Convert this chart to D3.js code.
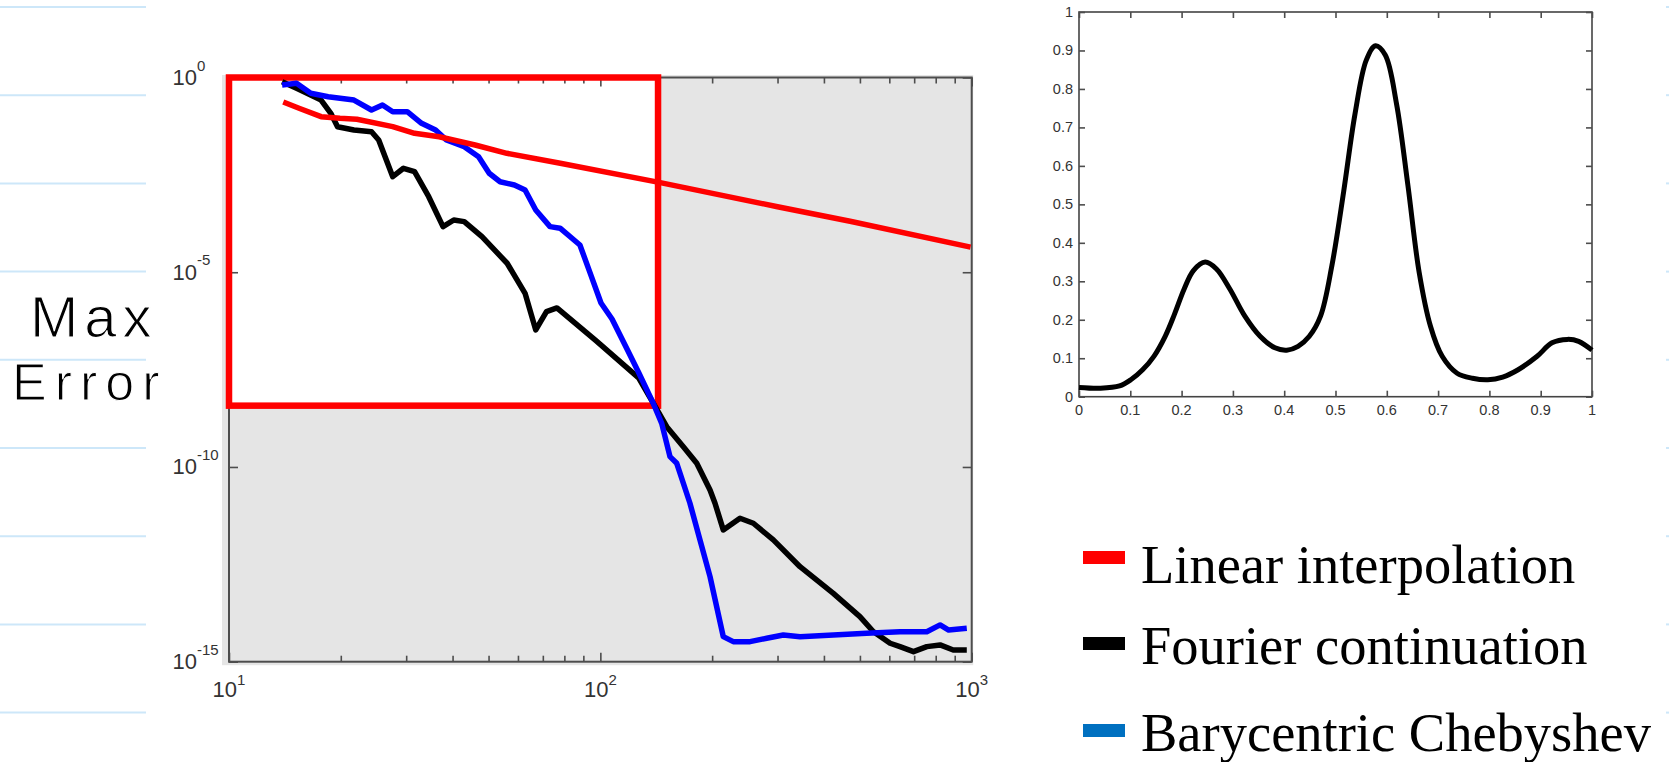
<!DOCTYPE html>
<html>
<head>
<meta charset="utf-8">
<script src="https://cdn.jsdelivr.net/npm/d3@7"></script>
<style>
  body { margin: 0; background: #fff; }
  svg { display: block; }
</style>
</head>
<body>
<script>
// ---- data ----
// max error vs N (log-log)
const nLinear   = [14, 15.5, 17.7, 19.9, 22.1, 27.6, 31.6, 36.8, 46, 56, 78, 145, 300, 474, 993];
const errLinear = [0.235, 0.16, 0.0986, 0.09, 0.085, 0.0546, 0.0369, 0.0302, 0.0185, 0.0113, 6.3e-3, 2.0e-3, 4.8e-4, 2.0e-4, 4.4e-5];

const nFourier   = [13.9, 15.2, 17.7, 18.8, 19.6, 21.7, 24.2, 25.3, 27.6, 29.5, 31.6, 34.5, 37.7, 40.3, 43, 48, 56.1, 62.7, 67, 71.6, 76.4,
                    97.3, 126.8, 138.7, 150.9, 167.3, 181.8, 197.4, 203.6, 214.3, 237.7, 258.2, 292.3, 344.9, 424, 500, 543, 603, 641, 697, 757, 822, 892, 970];
const errFourier = [0.78, 0.53, 0.264, 0.12, 0.0546, 0.0449, 0.0406, 0.0248, 2.84e-3, 4.67e-3, 3.82e-3, 8.7e-4, 1.48e-4, 2.19e-4, 1.99e-4, 8.18e-5, 1.7e-5, 2.88e-6, 3.29e-7, 9.7e-7, 1.21e-6,
                    1.76e-7, 1.94e-8, 4.4e-9, 1.08e-9, 3.32e-10, 1.24e-10, 2.57e-11, 1.17e-11, 2.42e-12, 4.82e-12, 3.59e-12, 1.34e-12, 2.75e-13, 5.7e-14, 1.44e-14, 5.96e-15, 2.98e-15, 2.44e-15, 1.81e-15, 2.44e-15, 2.7e-15, 2.0e-15, 2.0e-15];

const nCheb   = [13.9, 15.2, 16.6, 18.5, 21.7, 24.2, 25.9, 27.6, 30.2, 33, 36, 38.5, 43, 47, 50.2, 53.7, 58.7, 62.7, 67, 73.2, 77.9, 88.1, 94.2, 100.4,
                 107.5, 118.7, 126.8, 138.7, 146.3, 154, 160.6, 174.3, 185.5, 197.4, 214.3, 228, 253, 280.5, 311, 345, 424, 521, 641, 757, 822, 867, 970];
const errCheb = [0.642, 0.71, 0.393, 0.321, 0.264, 0.1465, 0.197, 0.1324, 0.1324, 0.0667, 0.0449, 0.0248, 0.0167, 9.27e-3, 3.47e-3, 2.11e-3, 1.74e-3, 1.29e-3, 3.96e-4, 1.48e-4, 1.35e-4, 5.0e-5, 8.7e-6, 1.62e-6,
                 6.3e-7, 9.5e-8, 2.67e-8, 4.4e-9, 1.32e-9, 1.84e-10, 1.24e-10, 1.17e-11, 1.34e-12, 1.53e-13, 4.4e-15, 3.27e-15, 3.27e-15, 4.0e-15, 4.86e-15, 4.4e-15, 4.86e-15, 5.37e-15, 5.9e-15, 5.9e-15, 8.8e-15, 6.5e-15, 7.2e-15];

// highlighted region (red box), in data units
const boxN   = [10, 143];
const boxErr = [1, 3.75e-9];

// ticks of the error plot
const xMajor = [10, 100, 1000];
const xMinor = [20, 30, 40, 50, 60, 70, 80, 90, 200, 300, 400, 500, 600, 700, 800, 900];
const yMajor = [1, 1e-5, 1e-10, 1e-15];

// test function on [0,1]
const xSignal = [0, 0.042, 0.079, 0.101, 0.124, 0.146, 0.168, 0.186, 0.205, 0.223, 0.246, 0.268, 0.294, 0.323, 0.353, 0.382, 0.405, 0.427, 0.449, 0.471,
                 0.493, 0.516, 0.538, 0.56, 0.578, 0.597, 0.619, 0.641, 0.663, 0.685, 0.708, 0.737, 0.767, 0.797, 0.826, 0.856, 0.893, 0.922, 0.952, 0.974, 1.0];
const ySignal = [0.024, 0.022, 0.028, 0.044, 0.07, 0.105, 0.157, 0.214, 0.28, 0.328, 0.35, 0.332, 0.28, 0.21, 0.157, 0.127, 0.121, 0.131, 0.157, 0.21,
                 0.341, 0.534, 0.735, 0.875, 0.912, 0.888, 0.761, 0.551, 0.324, 0.184, 0.105, 0.061, 0.048, 0.044, 0.051, 0.07, 0.105, 0.14, 0.149, 0.144, 0.121];
const sigTicks = [0, 0.1, 0.2, 0.3, 0.4, 0.5, 0.6, 0.7, 0.8, 0.9, 1];

// legend
const legendLabels = ['Linear interpolation', 'Fourier continuation', 'Barycentric Chebyshev'];
const legendColors = ['#ff0000', '#000000', '#0070c0'];

// ---- drawing ----
const W = 1669, H = 762;
const svg = d3.select('body').append('svg').attr('width', W).attr('height', H);

// notebook lines
const ruleY = d3.range(9).map(i => 7 + i * 88.2);
svg.append('g').selectAll('line').data(ruleY).join('line')
  .attr('x1', 0).attr('x2', 146).attr('y1', d => d).attr('y2', d => d)
  .attr('stroke', '#cde7f9').attr('stroke-width', 2);
svg.append('g').selectAll('line').data(ruleY).join('line')
  .attr('x1', 1666).attr('x2', 1669).attr('y1', d => d).attr('y2', d => d)
  .attr('stroke', '#cde7f9').attr('stroke-width', 2);

// handwritten axis label (white outline thins the strokes)
const hand = svg.append('g')
  .style('font-family', '"Liberation Sans", Arial, sans-serif')
  .attr('fill', '#000').attr('stroke', '#fff').attr('stroke-width', 1.2);
hand.append('text').attr('x', 30).attr('y', 337).style('font-size', '58px').style('letter-spacing', '6px').text('Max');
hand.append('text').attr('x', 12).attr('y', 400).style('font-size', '52px').style('letter-spacing', '8px').text('Error');

// ---- error plot ----
const x = d3.scaleLog().domain([10, 1000]).range([229, 971.7]);
const y = d3.scaleLog().domain([1, 1e-15]).range([77.5, 661.7]);
const left = svg.append('g');

// figure background and highlighted window
left.append('rect')
  .attr('x', x(10) - 7).attr('y', y(1) - 2.5)
  .attr('width', x(1000) - x(10) + 8.5).attr('height', y(1e-15) - y(1) + 6)
  .attr('fill', '#e5e5e5');
left.append('rect')
  .attr('x', x(boxN[0])).attr('y', y(boxErr[0]))
  .attr('width', x(boxN[1]) - x(boxN[0])).attr('height', y(boxErr[1]) - y(boxErr[0]))
  .attr('fill', '#fff');

// frame
left.append('rect')
  .attr('x', x(10)).attr('y', y(1))
  .attr('width', x(1000) - x(10)).attr('height', y(1e-15) - y(1))
  .attr('fill', 'none').attr('stroke', '#4d4d4d').attr('stroke-width', 2);

function ticks(g, axis) {
  g.call(axis).attr('color', '#4d4d4d');
  g.select('.domain').remove();
  g.selectAll('line').attr('stroke-width', 1.6);
  g.selectAll('text').remove();
}
left.append('g').attr('transform', `translate(0,${y(1e-15)})`)
  .call(ticks, d3.axisBottom(x).tickValues(xMinor).tickSizeInner(-6).tickSizeOuter(0));
left.append('g').attr('transform', `translate(0,${y(1e-15)})`)
  .call(ticks, d3.axisBottom(x).tickValues(xMajor).tickSizeInner(-9).tickSizeOuter(0));
left.append('g').attr('transform', `translate(0,${y(1)})`)
  .call(ticks, d3.axisTop(x).tickValues(xMinor).tickSizeInner(-6).tickSizeOuter(0));
left.append('g').attr('transform', `translate(0,${y(1)})`)
  .call(ticks, d3.axisTop(x).tickValues(xMajor).tickSizeInner(-9).tickSizeOuter(0));
left.append('g').attr('transform', `translate(${x(10)},0)`)
  .call(ticks, d3.axisLeft(y).tickValues(yMajor).tickSizeInner(-9).tickSizeOuter(0));
left.append('g').attr('transform', `translate(${x(1000)},0)`)
  .call(ticks, d3.axisRight(y).tickValues(yMajor).tickSizeInner(-9).tickSizeOuter(0));

// tick labels 10^k
const labFont = '"Liberation Sans", Arial, Helvetica, sans-serif';
left.append('g').selectAll('text').data(xMajor).join('text')
  .attr('x', d => x(d)).attr('y', y(1e-15) + 35)
  .attr('text-anchor', 'middle')
  .style('font-family', labFont).style('font-size', '22px').attr('fill', '#333')
  .each(function (d) {
    const t = d3.select(this);
    t.append('tspan').text('10');
    t.append('tspan').attr('dy', -12).style('font-size', '15px').text(Math.round(Math.log10(d)));
  });
const yLab = left.append('g').style('font-family', labFont).attr('fill', '#333');
yLab.selectAll('.base').data(yMajor).join('text').attr('class', 'base')
  .attr('x', x(10) - 32).attr('y', d => y(d) + 7.5)
  .attr('text-anchor', 'end').style('font-size', '22px').text('10');
yLab.selectAll('.sup').data(yMajor).join('text').attr('class', 'sup')
  .attr('x', x(10) - 32).attr('y', d => y(d) - 7)
  .style('font-size', '15px').text(d => Math.round(Math.log10(d)));

// red highlight border
left.append('rect')
  .attr('x', x(boxN[0])).attr('y', y(boxErr[0]))
  .attr('width', x(boxN[1]) - x(boxN[0])).attr('height', y(boxErr[1]) - y(boxErr[0]))
  .attr('fill', 'none').attr('stroke', '#ff0000').attr('stroke-width', 6.5);

// error curves
const errLine = d3.line().x(d => x(d[0])).y(d => y(d[1]));
const series = [
  {n: nFourier, err: errFourier, color: '#000000'},
  {n: nCheb, err: errCheb, color: '#0000ff'},
  {n: nLinear, err: errLinear, color: '#ff0000'}
];
left.append('g').selectAll('path').data(series).join('path')
  .attr('d', s => errLine(d3.zip(s.n, s.err)))
  .attr('fill', 'none')
  .attr('stroke', s => s.color)
  .attr('stroke-width', 5.5)
  .attr('stroke-linejoin', 'round');

// ---- test function plot ----
const sx = d3.scaleLinear().domain([0, 1]).range([1079, 1592]);
const sy = d3.scaleLinear().domain([0, 1]).range([396.7, 12]);
const right = svg.append('g');

right.append('rect')
  .attr('x', sx(0)).attr('y', sy(1))
  .attr('width', sx(1) - sx(0)).attr('height', sy(0) - sy(1))
  .attr('fill', '#fff').attr('stroke', '#444').attr('stroke-width', 1.6);

right.append('g').attr('transform', `translate(0,${sy(0)})`)
  .call(ticks, d3.axisBottom(sx).tickValues(sigTicks).tickSizeInner(-6).tickSizeOuter(0));
right.append('g').attr('transform', `translate(0,${sy(1)})`)
  .call(ticks, d3.axisTop(sx).tickValues(sigTicks).tickSizeInner(-6).tickSizeOuter(0));
right.append('g').attr('transform', `translate(${sx(0)},0)`)
  .call(ticks, d3.axisLeft(sy).tickValues(sigTicks).tickSizeInner(-6).tickSizeOuter(0));
right.append('g').attr('transform', `translate(${sx(1)},0)`)
  .call(ticks, d3.axisRight(sy).tickValues(sigTicks).tickSizeInner(-6).tickSizeOuter(0));

const fmt = d3.format('~g');
right.append('g').selectAll('text').data(sigTicks).join('text')
  .attr('x', d => sx(d)).attr('y', sy(0) + 18.5)
  .attr('text-anchor', 'middle')
  .style('font-family', labFont).style('font-size', '14.5px').attr('fill', '#333')
  .text(fmt);
right.append('g').selectAll('text').data(sigTicks).join('text')
  .attr('x', sx(0) - 6).attr('y', d => sy(d) + 5)
  .attr('text-anchor', 'end')
  .style('font-family', labFont).style('font-size', '14.5px').attr('fill', '#333')
  .text(fmt);

right.append('path')
  .datum(d3.zip(xSignal, ySignal))
  .attr('d', d3.line().x(d => sx(d[0])).y(d => sy(d[1])).curve(d3.curveCatmullRom))
  .attr('fill', 'none').attr('stroke', '#000').attr('stroke-width', 5);

// ---- legend ----
const legend = svg.append('g').attr('transform', 'translate(1083,0)');
const swatchY = [551, 637, 724];
const textY = [583, 664, 751];
legend.selectAll('rect').data(legendColors).join('rect')
  .attr('x', 0).attr('y', (d, i) => swatchY[i])
  .attr('width', 42).attr('height', 13)
  .attr('fill', d => d);
legend.selectAll('text').data(legendLabels).join('text')
  .attr('x', 58).attr('y', (d, i) => textY[i])
  .style('font-family', '"Liberation Serif", "Times New Roman", serif')
  .style('font-size', '54.5px').attr('fill', '#000')
  .text(d => d);
</script>
</body>
</html>
